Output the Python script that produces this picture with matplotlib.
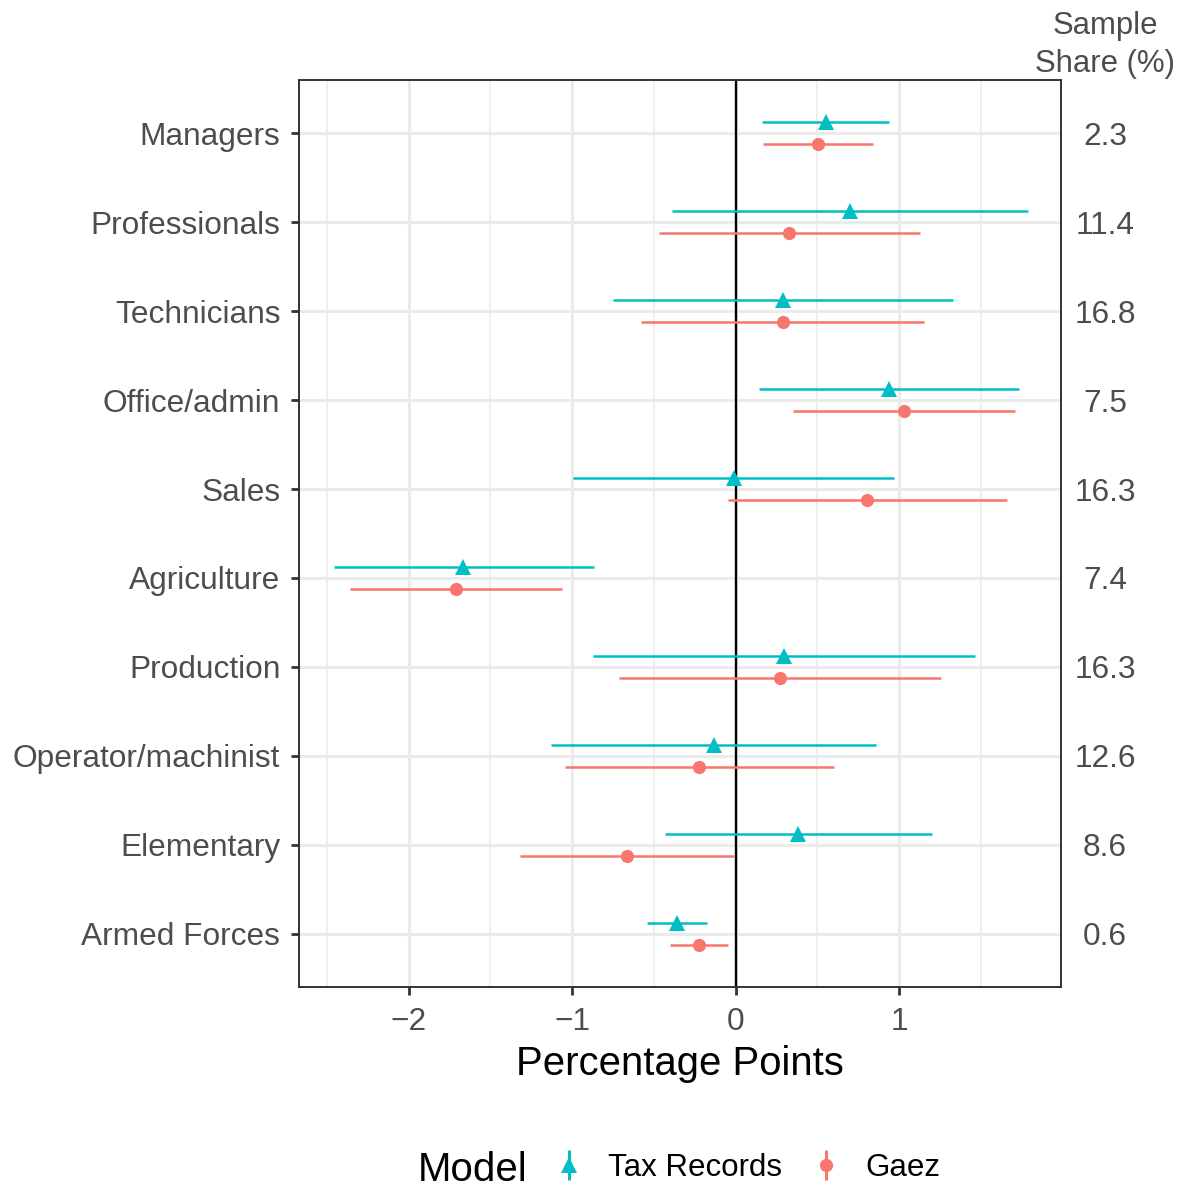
import numpy as np
import matplotlib
matplotlib.use("Agg")
import matplotlib.pyplot as plt
import matplotlib.transforms as mtransforms
from matplotlib.lines import Line2D
from matplotlib.legend_handler import HandlerTuple

plt.rcParams['font.family'] = ['Liberation Sans', 'DejaVu Sans']

occupations = ["Managers", "Professionals", "Technicians", "Office/admin", "Sales",
               "Agriculture", "Production", "Operator/machinist", "Elementary", "Armed Forces"]
sample_share = ["2.3", "11.4", "16.8", "7.5", "16.3", "7.4", "16.3", "12.6", "8.6", "0.6"]

# Tax Records estimates with confidence bounds
tax_est = [0.550, 0.699, 0.287, 0.938, -0.012, -1.665, 0.296, -0.134, 0.382, -0.360]
tax_lo = [0.162, -0.391, -0.751, 0.144, -0.993, -2.459, -0.874, -1.127, -0.431, -0.544]
tax_hi = [0.938, 1.787, 1.329, 1.732, 0.971, -0.864, 1.466, 0.861, 1.200, -0.177]

# Gaez estimates with confidence bounds
gaez_est = [0.501, 0.327, 0.287, 1.029, 0.806, -1.710, 0.272, -0.226, -0.666, -0.226]
gaez_lo = [0.168, -0.467, -0.577, 0.351, -0.046, -2.358, -0.712, -1.045, -1.319, -0.400]
gaez_hi = [0.840, 1.127, 1.155, 1.710, 1.658, -1.063, 1.255, 0.599, -0.012, -0.049]

teal = "#00BFC4"
salmon = "#F8766D"
grey30 = "#4D4D4D"
grey20 = "#333333"

fig = plt.figure(figsize=(11.86, 11.87), dpi=100)
ax = fig.add_axes([299 / 1186, 1 - 987 / 1187, (1061 - 299) / 1186, (987 - 80) / 1187])

pos = np.arange(len(occupations))
dodge = 0.125

# grid
for x in [-2.5, -1.5, -0.5, 0.5, 1.5]:
    ax.axvline(x, color="#EBEBEB", lw=1.1, zorder=0)
for x in [-2, -1, 0, 1]:
    ax.axvline(x, color="#EBEBEB", lw=2.2, zorder=0)
for y in pos:
    ax.axhline(y, color="#EBEBEB", lw=2.2, zorder=0)

ax.axvline(0, color="black", lw=1.7, zorder=1)

ax.hlines(pos + dodge, gaez_lo, gaez_hi, color=salmon, lw=1.8, zorder=2)
ax.plot(gaez_est, pos + dodge, "o", color=salmon, ms=9.5, mew=0, zorder=3)
ax.hlines(pos - dodge, tax_lo, tax_hi, color=teal, lw=1.8, zorder=2)
ax.plot(tax_est, pos - dodge, "^", color=teal, ms=11.5, mew=0, zorder=3)

ax.set_xlim(-2.67, 1.99)
ax.set_ylim(len(occupations) - 0.4, -0.6)
ax.set_xticks([-2, -1, 0, 1])
ax.set_xticklabels(["\u22122", "\u22121", "0", "1"])
ax.set_yticks(pos)
ax.set_yticklabels(occupations)
ax.tick_params(axis="both", colors=grey20, labelcolor=grey30, labelsize=22.8,
               length=5.5, width=2.0)
ax.tick_params(axis="y", pad=8)
ax.tick_params(axis="x", pad=9)
for s in ax.spines.values():
    s.set_color(grey20)
    s.set_linewidth(1.4)

ax.set_xlabel("Percentage Points", fontsize=28.9, color="black", labelpad=6)

# sample share column on the right
trans = mtransforms.blended_transform_factory(fig.transFigure, ax.transData)
for p, s in zip(pos, sample_share):
    ax.text(1105 / 1186, p, s, transform=trans, ha="center", va="center_baseline",
            fontsize=22.8, color=grey30, clip_on=False)
fig.text(1105 / 1186, 1 - 45 / 1187, "Sample\nShare (%)", ha="center", va="center",
         fontsize=22.4, color=grey30, linespacing=1.38)

# legend
fig.text(418 / 1186, 1 - 1170 / 1187, "Model", ha="left", va="center", fontsize=29, color="black")
h_tax = (Line2D([], [], color=teal, marker="|", ms=22, mew=2.2, ls="None"),
         Line2D([], [], color=teal, marker="^", ms=11.5, mew=0, ls="None"))
h_gaez = (Line2D([], [], color=salmon, marker="|", ms=22, mew=2.2, ls="None"),
          Line2D([], [], color=salmon, marker="o", ms=9.5, mew=0, ls="None"))
fig.legend([h_tax, h_gaez], ["Tax Records", "Gaez"], ncol=2, frameon=False,
           loc="center left", bbox_to_anchor=(553 / 1186, 1 - 1168 / 1187),
           fontsize=22.5, handlelength=1.0, handletextpad=0.77, columnspacing=0.9,
           borderpad=0, borderaxespad=0,
           handler_map={tuple: HandlerTuple(ndivide=1, pad=0)})

fig.savefig("out.png", dpi=100)
